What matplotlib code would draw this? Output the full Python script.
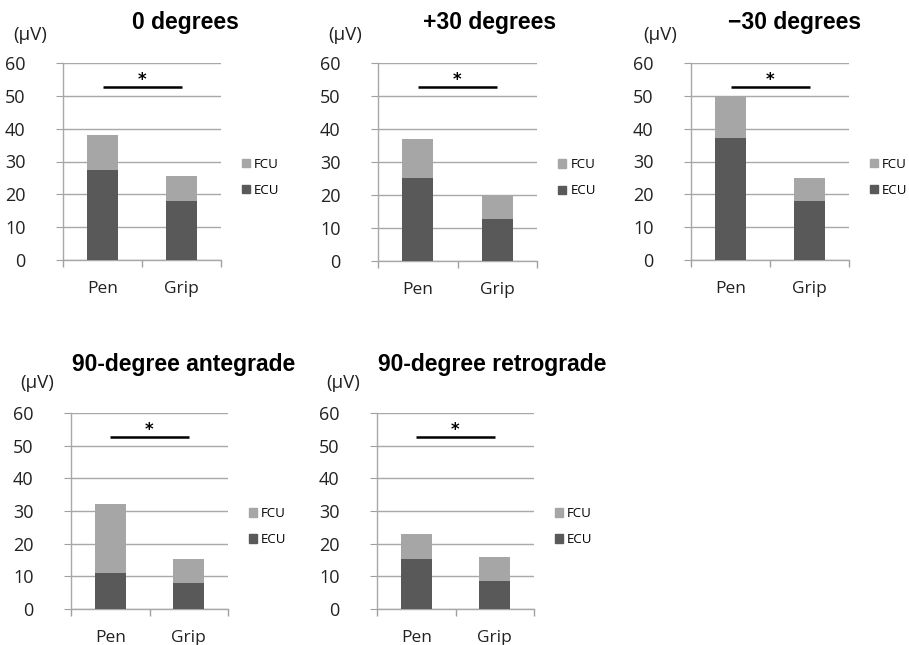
import matplotlib
matplotlib.use("Agg")
import matplotlib.pyplot as plt
from matplotlib.patches import Patch

titles = ["0 degrees", "+30 degrees", "\u221230 degrees",
          "90-degree antegrade", "90-degree retrograde"]
categories = ["Pen", "Grip"]
ecu = [[27.5, 17.9], [25.2, 12.7], [37.1, 17.9], [11.0, 7.9], [15.3, 8.6]]
fcu = [[10.6, 7.8], [11.7, 7.2], [12.7, 7.0], [21.0, 7.4], [7.6, 7.2]]
sig_y = 52.7
y_ticks = [0, 10, 20, 30, 40, 50, 60]

ECU_C = "#595959"
FCU_C = "#a6a6a6"
W, H = 909, 645

# layout in pixels: (left, top, right, bottom), title center x, title y, unit label x,y
layout = [
    ((63, 63, 221, 260), 185, 23, 30, 35),
    ((378, 63, 537, 261), 490, 23, 345, 35),
    ((691, 63, 849, 260), 795, 23, 660, 35),
    ((71, 413, 228, 609), 184, 365, 37, 383),
    ((377, 413, 534, 609), 492, 365, 343, 383),
]

fig = plt.figure(figsize=(W / 100, H / 100), dpi=100)
fig.patch.set_facecolor("white")

tick_font = "Open Sans"

for i, ((l, t, r, b), tx, ty, ux, uy) in enumerate(layout):
    ax = fig.add_axes([l / W, 1 - b / H, (r - l) / W, (b - t) / H])
    x = list(range(len(categories)))
    ax.bar(x, ecu[i], width=0.39, color=ECU_C, zorder=3, label="ECU")
    ax.bar(x, fcu[i], width=0.39, bottom=ecu[i], color=FCU_C, zorder=3, label="FCU")
    ax.set_xlim(-0.5, 1.5)
    ax.set_ylim(0, 60)
    ax.set_yticks(y_ticks)
    ax.set_xticks(x)
    ax.set_xticklabels(categories, fontsize=12.5, family=tick_font, color="#222222")
    ax.set_xticks([-0.5, 0.5, 1.5], minor=True)
    ax.tick_params(axis="x", which="major", length=0, pad=15)
    ax.tick_params(axis="x", which="minor", length=5, color="#a0a0a0", width=1)
    ax.tick_params(axis="y", length=5, color="#a0a0a0", pad=22)
    for lab in ax.get_yticklabels():
        lab.set_fontsize(13)
        lab.set_family(tick_font)
        lab.set_color("#222222")
    ax.grid(axis="y", color="#a8a8a8", linewidth=1.0, zorder=0)
    for s in ["top", "right"]:
        ax.spines[s].set_visible(False)
    for s in ["left", "bottom"]:
        ax.spines[s].set_color("#a8a8a8")
        ax.spines[s].set_linewidth(1.0)
    # significance bar
    ax.plot([0, 1], [sig_y, sig_y], color="black", linewidth=1.8, zorder=4,
            solid_capstyle="butt", clip_on=False)
    ax.text(0.5, sig_y + 2.2, "*", ha="center", va="center", fontsize=12,
            fontweight="bold", family="DejaVu Sans", zorder=4)
    handles = [Patch(color=FCU_C, label="FCU"), Patch(color=ECU_C, label="ECU")]
    ax.legend(handles=handles, loc="center left", bbox_to_anchor=(1.06, 0.42),
              frameon=False, handlelength=0.6, handleheight=0.6, handletextpad=0.3,
              labelspacing=1.0, prop={"family": tick_font, "size": 9.5})
    fig.text(tx / W, 1 - ty / H, titles[i], ha="center", va="center",
             fontsize=16.5, fontweight="bold", family="Liberation Sans")
    fig.text(ux / W, 1 - uy / H, "(\u00b5V)", ha="center", va="center",
             fontsize=13.5, family=tick_font, color="#222222")

fig.savefig("out.png", dpi=100, facecolor="white")
